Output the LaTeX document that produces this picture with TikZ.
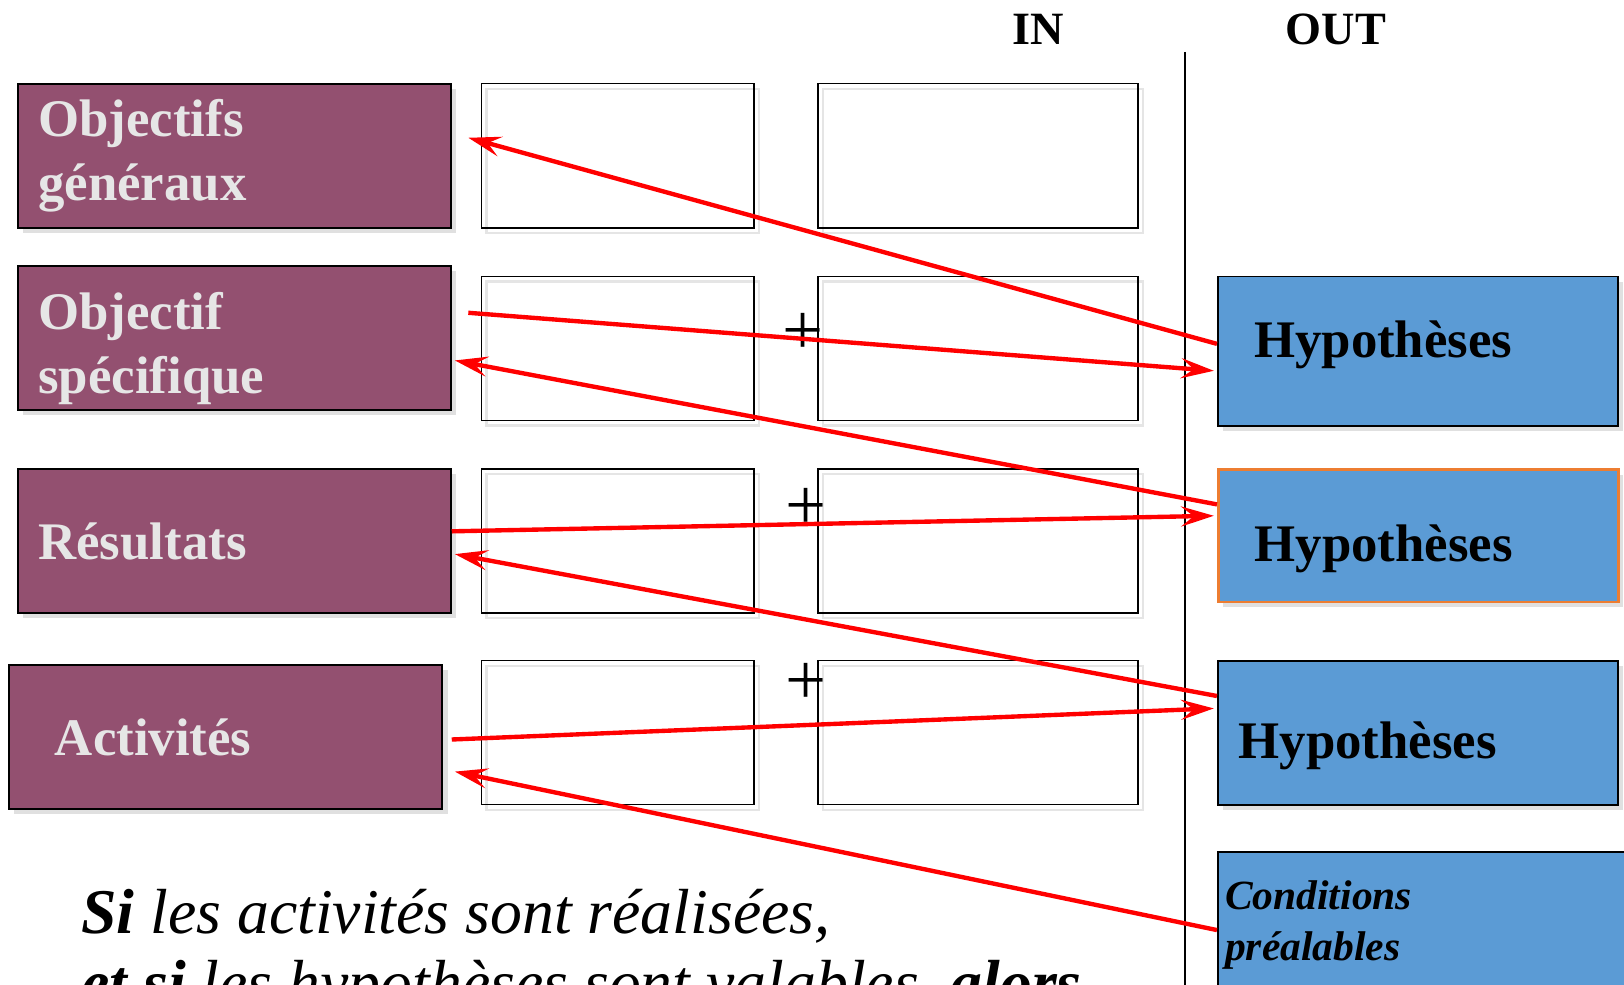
\documentclass[tikz,border=0pt]{standalone}
\usepackage{fontspec}
\setmainfont{Liberation Serif}
\usepackage{tikz}
\usetikzlibrary{arrows.meta,calc,shadows}
\definecolor{objcolor}{RGB}{147,80,112}
\definecolor{objtext}{RGB}{230,230,230}
\definecolor{hypcolor}{RGB}{91,155,213}
\definecolor{hypedge}{RGB}{237,125,49}
\begin{document}
\begin{tikzpicture}[x=0.01cm,y=-0.01cm,
  objbox/.style={draw=black, line width=0.55pt, fill=objcolor, text=objtext,
    font=\fontsize{14.5}{17.6}\selectfont\bfseries, anchor=north west,
    minimum height=1.39cm, inner xsep=0.2cm, text width=3.78cm, align=left,
    drop shadow={shadow xshift=0.05cm, shadow yshift=-0.05cm, fill=black!12, opacity=1}},
  emptybox/.style={draw=black, line width=0.45pt, anchor=north west, minimum height=1.39cm,
    drop shadow={shadow xshift=0.05cm, shadow yshift=-0.05cm, fill=none, draw=black!10, line width=0.6pt, opacity=1}},
  hypbox/.style={draw=black, line width=0.5pt, fill=hypcolor, anchor=north west,
    font=\fontsize{14.5}{16.5}\selectfont\bfseries, inner xsep=0.35cm, text width=3.16cm, align=left,
    text depth=3.1pt, drop shadow={shadow xshift=0.05cm, shadow yshift=-0.05cm, fill=black!12, opacity=1}},
  colhead/.style={font=\fontsize{12.7}{14}\selectfont\bfseries, anchor=base},
  plussign/.style={font=\fontsize{20}{20}\selectfont, inner sep=0pt},
  link/.style={draw=red, line width=1.2pt, -{Stealth[length=9pt,width=5.5pt,inset=3.5pt]}}]
\useasboundingbox (0,0) rectangle (1568,951);
\clip (0,0) rectangle (1568,951);

\draw[line width=0.55pt] (1144,50) coordinate (sepa) -- (1144,951) coordinate (sepb);
\node[colhead] (in) at (1002,43) {IN};
\node[colhead] (out) at (1290,43) {OUT};

\node[objbox] (obja) at (16,80) {Objectifs\\généraux};
\node[objbox, inner ysep=0pt] (objb) at (16,256) {\rule{0pt}{16pt}Objectif\\spécifique};
\node[objbox] (objc) at (16,452) {Résultats};
\node[objbox, inner xsep=0.44cm, text width=3.3cm] (objd) at (8,641) {Activités};

\node[emptybox, minimum width=2.63cm] (inaa) at (464,80) {};
\node[emptybox, minimum width=3.09cm] (inab) at (789,80) {};
\node[emptybox, minimum width=2.63cm] (inba) at (464,266) {};
\node[emptybox, minimum width=3.09cm] (inbb) at (789,266) {};
\node[emptybox, minimum width=2.63cm] (inca) at (464,452) {};
\node[emptybox, minimum width=3.09cm] (incb) at (789,452) {};
\node[emptybox, minimum width=2.63cm] (inda) at (464,637) {};
\node[emptybox, minimum width=3.09cm] (indb) at (789,637) {};

\node[plussign] (plusb) at (775,322) {+};
\node[plussign] (plusc) at (778,491) {+};
\node[plussign] (plusd) at (778,660) {+};

\node[hypbox, minimum height=1.44cm, text height=6.9pt] (hypa) at (1175,266) {Hypothèses};
\node[hypbox, draw=hypedge, line width=0.7pt, minimum height=1.28cm, text height=17.3pt] (hypb) at (1175,452) {Hypothèses};
\node[hypbox, minimum height=1.39cm, inner xsep=0.2cm, text width=3.46cm, text height=17.1pt] (hypc) at (1175,637) {Hypothèses};
\node[hypbox, minimum height=1.4cm, inner xsep=0.07cm, text width=3.9cm, text height=, text depth=,
  font=\fontsize{11.4}{14}\selectfont\bfseries\itshape] (cond) at (1175,822) {Conditions\\préalables};

\node[anchor=base west, align=left, inner sep=0pt, font=\fontsize{17.5}{19.6}\selectfont\itshape] (phrase) at (78,970)
  {\textbf{Si} les activités sont réalisées,\\\textbf{et si} les hypothèses sont valables, \textbf{alors}};

\draw[link] ($(hypa.north west)+(0,66)$) -- ($(obja.north east)+(16,53)$);
\draw[link] ($(objb.north east)+(16,46)$) -- ($(hypa.north west)+(-3,92)$);
\draw[link] ($(hypb.north west)+(0,35)$) -- ($(objb.north east)+(3,92)$);
\draw[link] ($(objc.north east)+(0,61)$) -- ($(hypb.north west)+(-3,46)$);
\draw[link] ($(hypc.north west)+(0,35)$) -- ($(objc.north east)+(3,83)$);
\draw[link] ($(objd.north east)+(8,73)$) -- ($(hypc.north west)+(-3,47)$);
\draw[link] ($(cond.north west)+(0,76)$) -- ($(objd.north east)+(11,104)$);
\end{tikzpicture}
\end{document}
